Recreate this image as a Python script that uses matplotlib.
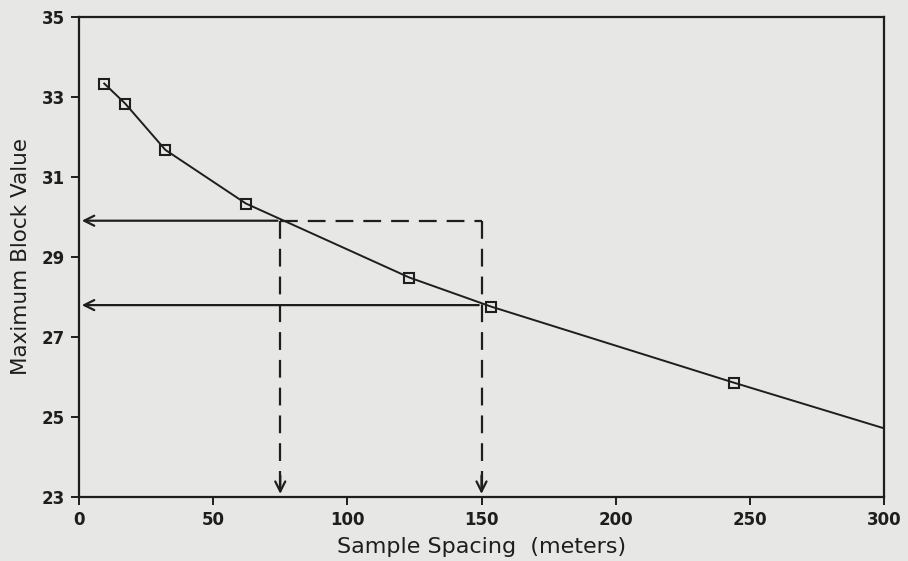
import matplotlib.pyplot as plt

# valores
espaciado = [9.4, 17.2, 32.2, 62.2, 123.1, 153.7, 244.1]
valor_max = [33.33, 32.83, 31.67, 30.33, 28.48, 27.75, 25.85]
x_fin = 300
y_fin = 24.71

x_corte1, y_corte1 = 75, 29.9
x_corte2, y_corte2 = 150, 27.79

xticks = [0, 50, 100, 150, 200, 250, 300]
yticks = [23, 25, 27, 29, 31, 33, 35]

fondo = '#e7e7e5'
tinta = '#1e1e1e'
guion = (0, (8, 4.5))

fig = plt.figure(figsize=(9.08, 5.61), dpi=100, facecolor=fondo)
ax = fig.add_axes([0.087, 0.1146, 0.8866, 0.8556], facecolor=fondo)

# curva
ax.plot(espaciado + [x_fin], valor_max + [y_fin], color=tinta, lw=1.4)
ax.plot(espaciado, valor_max, 's', ms=7, mfc='none', mec=tinta, mew=1.5)

# lineas de lectura
arrow = dict(arrowstyle='->', lw=1.6, color=tinta, mutation_scale=18)
ax.annotate('', xy=(0, y_corte1), xytext=(x_corte1, y_corte1), arrowprops=arrow)
ax.annotate('', xy=(0, y_corte2), xytext=(x_corte2, y_corte2), arrowprops=arrow)
ax.plot([x_corte1, x_corte2], [y_corte1, y_corte1], ls=guion, color=tinta, lw=1.6)
ax.plot([x_corte1, x_corte1], [y_corte1, 23.2], ls=guion, color=tinta, lw=1.6)
ax.plot([x_corte2, x_corte2], [y_corte1, 23.2], ls=guion, color=tinta, lw=1.6)
for xc in [x_corte1, x_corte2]:
    ax.annotate('', xy=(xc, 23), xytext=(xc, 23.6), arrowprops=arrow)

ax.set_xlim(0, 300)
ax.set_ylim(23, 35)
ax.set_xticks(xticks)
ax.set_yticks(yticks)
ax.tick_params(direction='out', length=6, width=1.4, color=tinta, labelcolor=tinta,
               labelsize=12, pad=4)
for lab in ax.get_xticklabels() + ax.get_yticklabels():
    lab.set_fontweight('bold')
for s in ax.spines.values():
    s.set_linewidth(1.6)
    s.set_color(tinta)

ax.set_xlabel('Sample Spacing  (meters)', fontsize=16, color=tinta, labelpad=6)
ax.set_ylabel('Maximum Block Value', fontsize=15.5, color=tinta, labelpad=8)

fig.savefig('out.png', dpi=100, facecolor=fondo)
